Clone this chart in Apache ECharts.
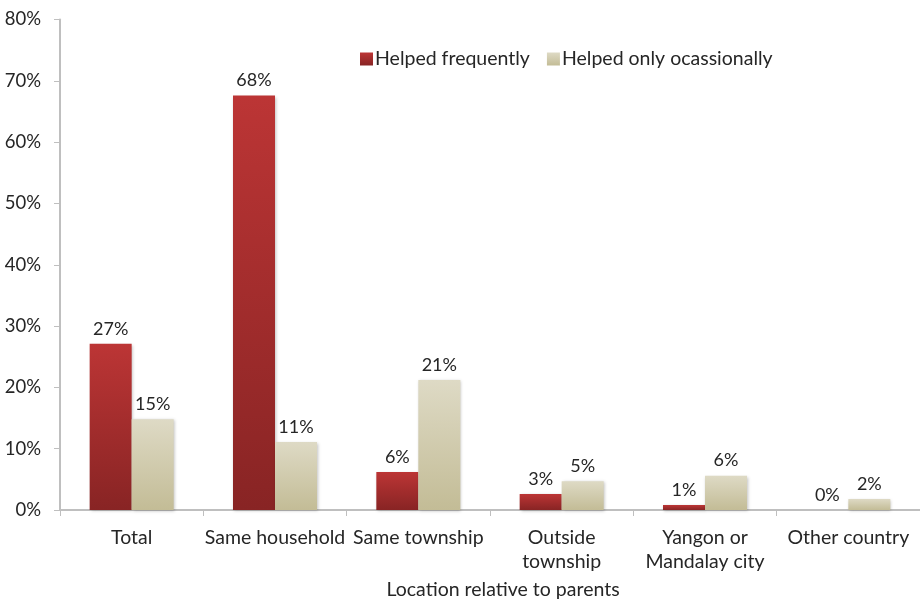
<!DOCTYPE html>
<html>
<head>
<meta charset="utf-8">
<script src="https://cdn.jsdelivr.net/npm/echarts@6/dist/echarts.min.js"></script>
<style>html,body{margin:0;padding:0;background:#fff}#c{width:920px;height:603px}</style>
</head>
<body>
<div id="c"></div>
<script>
var categories = ['Total', 'Same household', 'Same township', 'Outside\ntownship', 'Yangon or\nMandalay city', 'Other country'];
var seriesNames = ['Helped frequently', 'Helped only ocassionally'];
var helpedFrequently = [27.1, 67.6, 6.2, 2.6, 0.8, 0];
var helpedOccasionally = [14.8, 11.1, 21.2, 4.7, 5.6, 1.8];
var yTicks = [0, 10, 20, 30, 40, 50, 60, 70, 80];
var axisName = 'Location relative to parents';

var FONT = 'Lato, "Open Sans", sans-serif';
var TXT = '#262626';

function grad(top, bottom) {
  return new echarts.graphic.LinearGradient(0, 0, 0, 1, [
    {offset: 0, color: top}, {offset: 1, color: bottom}
  ]);
}

var chart = echarts.init(document.getElementById('c'));
var labelCfg = {
  show: true, position: 'top', distance: 6, color: TXT, fontFamily: FONT, fontSize: 18,
  formatter: function (p) { return Math.round(p.value) + '%'; }
};
chart.setOption({
  animation: false,
  textStyle: {fontFamily: FONT},
  legend: {
    data: seriesNames,
    left: 355, top: 44,
    itemWidth: 13, itemHeight: 13, itemGap: 17,
    icon: 'rect',
    textStyle: {color: TXT, fontSize: 19.5, fontFamily: FONT, padding: [0, 0, 0, -3]}
  },
  grid: {left: 60, right: 0, top: 19.5, bottom: 93, containLabel: false, outerBoundsMode: 'none'},
  xAxis: {
    type: 'category',
    data: categories,
    name: axisName,
    nameLocation: 'middle',
    nameGap: 70,
    nameTextStyle: {color: TXT, fontSize: 19.5, fontFamily: FONT, padding: [0, 0, 0, 26]},
    axisLine: {lineStyle: {color: '#bfbfbf', width: 2}},
    axisTick: {show: true, length: 6, lineStyle: {color: '#bfbfbf', width: 1}},
    axisLabel: {color: TXT, fontSize: 19.5, fontFamily: FONT, margin: 16, lineHeight: 24, interval: 0}
  },
  yAxis: {
    type: 'value',
    min: yTicks[0], max: yTicks[yTicks.length - 1], interval: 10,
    axisLine: {show: true, lineStyle: {color: '#bfbfbf', width: 2}},
    axisTick: {show: true, length: 6, lineStyle: {color: '#bfbfbf', width: 1}},
    splitLine: {show: false},
    axisLabel: {color: TXT, fontSize: 18.5, fontFamily: FONT, margin: 19, formatter: '{value}%'}
  },
  series: [
    {
      name: seriesNames[0], type: 'bar', data: helpedFrequently,
      barWidth: 42, barGap: '0%',
      itemStyle: {color: grad('#BC3535', '#882424'), shadowColor: 'rgba(0,0,0,0.25)', shadowBlur: 3, shadowOffsetX: 1, shadowOffsetY: 1},
      label: labelCfg
    },
    {
      name: seriesNames[1], type: 'bar', data: helpedOccasionally,
      barWidth: 42,
      itemStyle: {color: grad('#DEDAC5', '#C3BC96'), shadowColor: 'rgba(0,0,0,0.25)', shadowBlur: 3, shadowOffsetX: 1, shadowOffsetY: 1},
      label: labelCfg
    }
  ]
});
</script>
</body>
</html>
